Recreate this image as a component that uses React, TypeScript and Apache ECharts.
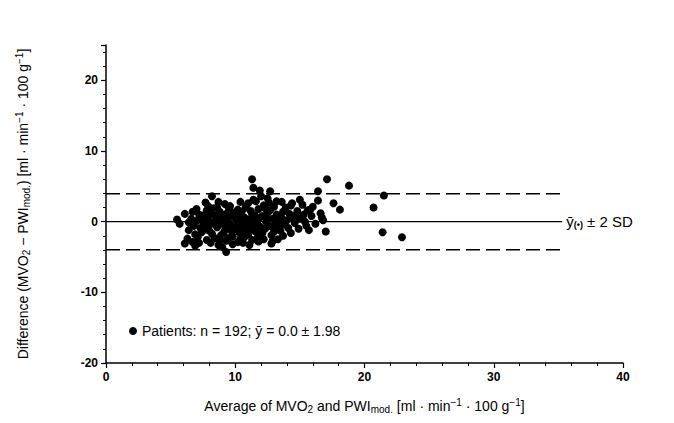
import React, { useEffect, useRef } from "react";
import * as echarts from "echarts";

const xTicks = [0, 10, 20, 30, 40];
const yTicks = [-20, -10, 0, 10, 20];
const yAxisTop = 25;
const meanDiff = 0.0;
const sdDiff = 1.98;
const lineEndX = 35.3;

// [average, difference]
const patients: number[][] = [
  [5.5, 0.3], [5.7, -0.3], [6.1, 1.1], [6.7, 1.4], [6.4, -0.1], [6.4, -1.2], [6.3, -2.4], [6.1, -3.1],
  [6.7, -2.9], [7.3, 0.9], [7.7, 2.7], [7.8, 1.6], [8.2, 3.6], [8.7, 2.8], [8.7, -3.3], [9.3, -4.3],
  [10.4, 2.8], [11.3, 6.0], [11.4, 4.8], [11.9, 4.4], [12.7, 4.3], [12.5, 3.3], [13.6, 2.8], [14.4, 2.6],
  [15.0, 3.1], [15.2, 2.4], [15.8, 1.7], [16.6, 1.2], [16.4, 4.3], [16.4, 3.0], [17.1, 6.0], [17.0, -1.4],
  [17.6, 2.6], [13.5, -1.3], [14.3, -1.6], [12.9, -2.7], [13.3, -2.5], [18.8, 5.1], [21.5, 3.7], [18.1, 1.7],
  [20.7, 2.0], [16.7, 0.6], [21.4, -1.5], [22.9, -2.2], [15.4, 0.0],
  [6.6, 0.4], [6.8, -0.6], [6.9, -1.8], [7.0, 0.1], [7.1, -2.2], [7.2, 1.0], [7.3, -0.9], [7.4, -1.5],
  [7.5, 0.5], [6.9, -3.4], [7.2, -3.0], [7.0, 1.8],
  [7.6, -0.2], [7.7, -1.1], [7.8, -2.6], [7.9, 0.6], [8.0, -0.5], [8.1, 1.2], [8.2, -1.7], [8.3, -0.1],
  [8.4, 0.9], [8.4, -2.3], [7.9, 2.2], [8.1, -3.0], [8.3, 1.9], [7.6, 0.9], [8.0, -1.3],
  [8.6, -0.8], [8.7, 0.3], [8.8, 1.4], [8.9, -1.9], [9.0, -0.3], [9.1, 0.8], [9.2, -1.2], [9.3, -2.7],
  [9.4, 0.1], [9.5, 1.9], [8.6, 2.0], [8.8, -2.6], [9.0, -3.6], [9.2, 2.5], [9.4, -0.9], [8.9, 0.5], [9.1, -1.6],
  [9.6, -0.4], [9.7, 0.7], [9.8, -2.1], [9.9, 1.3], [10.0, -1.0], [10.1, 0.2], [10.2, -2.9], [10.3, -1.5],
  [10.4, 1.0], [10.5, -0.2], [9.6, 2.2], [9.8, -3.2], [10.0, 0.9], [10.2, 1.7], [10.4, -2.4], [9.7, -1.3],
  [10.1, -0.6], [10.3, 0.4],
  [10.6, -1.1], [10.7, 0.6], [10.8, 2.0], [10.9, -0.5], [11.0, -1.8], [11.1, 0.3], [11.2, 1.5], [11.3, -2.6],
  [11.4, -0.2], [11.5, 0.9], [10.6, -3.0], [10.8, -1.5], [11.0, 2.6], [11.2, -0.9], [11.4, 3.1], [10.7, -2.2],
  [11.1, -3.3], [11.3, 1.1], [10.9, 0.0],
  [11.6, -1.4], [11.7, 0.2], [11.8, 1.8], [11.9, -0.7], [12.0, -2.0], [12.1, 0.8], [12.2, 2.3], [12.3, -1.0],
  [12.4, -0.1], [12.5, 1.2], [11.6, 2.9], [11.8, -2.8], [12.0, 3.6], [12.2, -2.5], [12.4, 0.5], [11.7, -0.3], [12.1, -1.6],
  [12.6, -0.6], [12.7, 1.6], [12.8, -1.9], [12.9, 0.4], [13.0, 2.1], [13.1, -0.3], [13.2, 1.0], [13.3, 0.0],
  [13.4, -0.9], [12.6, 2.7], [12.8, -3.1], [13.0, -1.4], [13.2, 2.9],
  [13.6, 0.5], [13.7, 1.4], [13.8, -0.4], [13.9, 2.0], [14.0, 0.2], [14.1, -0.9], [14.2, 1.1], [14.4, 0.6],
  [14.6, -0.2], [14.8, 1.5], [14.9, -1.0], [13.7, -2.0], [14.3, 2.3], [14.7, 0.9], [15.0, 0.4],
  [15.3, 1.0], [15.5, -0.6], [15.6, 1.6], [15.9, 0.8], [16.2, -0.3], [16.0, 2.1], [16.8, 0.2], [15.7, -1.2],
  [7.4, 0.2], [8.5, -0.4], [9.3, 1.1], [9.9, -0.8], [10.5, 1.4], [10.8, -0.3], [11.5, -1.3], [11.9, 0.6],
  [12.3, 1.9], [10.2, -0.9], [9.5, -2.3], [11.7, -2.3], [12.9, -0.8],
];

const legendName = "Patients: n = 192; ȳ = 0.0 ± 1.98";
const FONT = "Liberation Sans";

export default function App() {
  const ref = useRef<HTMLDivElement>(null);
  useEffect(() => {
    if (!ref.current) return;
    const chart = echarts.init(ref.current, undefined, { renderer: "svg" });
    const upper = meanDiff + 2 * sdDiff;
    const lower = meanDiff - 2 * sdDiff;
    const richBase = {
      sub: { fontSize: 10, fontFamily: FONT, color: "#000", padding: [7, 0, 0, 0] },
      sup: { fontSize: 10, fontFamily: FONT, color: "#000", padding: [0, 0, 7, 0] },
      subb: { fontSize: 9, fontFamily: FONT, color: "#000", fontWeight: "bold", padding: [7, 0, 0, 0] },
    };
    chart.setOption({
      animation: false,
      backgroundColor: "#fff",
      grid: { left: 106, right: 51, top: 45, bottom: 60, containLabel: false },
      legend: {
        left: 124,
        top: 319,
        icon: "circle",
        itemWidth: 8,
        itemHeight: 8,
        itemGap: 4,
        textStyle: { fontFamily: FONT, fontSize: 14, color: "#000" },
        data: [legendName],
      },
      xAxis: {
        type: "value",
        min: xTicks[0],
        max: xTicks[xTicks.length - 1],
        interval: 10,
        name: "Average of MVO{sub|2} and PWI{sub|mod.} [ml · min{sup|−1} · 100 g{sup|−1}]",
        nameLocation: "middle",
        nameGap: 34,
        nameTextStyle: { fontFamily: FONT, fontSize: 14, color: "#000", rich: richBase },
        axisLine: { onZero: false, lineStyle: { color: "#000", width: 1.5 } },
        axisTick: { length: 5, lineStyle: { color: "#000", width: 1.2 } },
        minorTick: { show: true, splitNumber: 5, length: 3, lineStyle: { color: "#000", width: 1 } },
        axisLabel: { fontFamily: FONT, fontSize: 12, fontWeight: "bold", color: "#000", margin: 8 },
        splitLine: { show: false },
      },
      yAxis: {
        type: "value",
        min: yTicks[0],
        max: yAxisTop,
        interval: 10,
        name: "Difference (MVO{sub|2} − PWI{sub|mod.}) [ml · min{sup|−1} · 100 g{sup|−1}]",
        nameLocation: "middle",
        nameGap: 75,
        nameTextStyle: { fontFamily: FONT, fontSize: 14, color: "#000", rich: richBase },
        axisLine: { show: true, onZero: false, lineStyle: { color: "#000", width: 1.5 } },
        axisTick: { show: true, length: 5, lineStyle: { color: "#000", width: 1.2 } },
        minorTick: { show: true, splitNumber: 5, length: 3, lineStyle: { color: "#000", width: 1 } },
        axisLabel: {
          fontFamily: FONT,
          fontSize: 12,
          fontWeight: "bold",
          color: "#000",
          margin: 8,
          showMaxLabel: false,
          formatter: (v: number) => (yTicks.includes(v) ? String(v) : ""),
        },
        splitLine: { show: false },
      },
      series: [
        {
          name: legendName,
          type: "scatter",
          data: patients,
          symbol: "circle",
          symbolSize: 8,
          itemStyle: { color: "#000", opacity: 1 },
          z: 3,
        },
        {
          name: "mean",
          type: "line",
          data: [[0, meanDiff], [lineEndX, meanDiff]],
          showSymbol: false,
          symbol: "none",
          lineStyle: { color: "#000", width: 1.3 },
          endLabel: {
            show: true,
            formatter: "ȳ{subb|(•)} ± 2 SD",
            fontFamily: FONT,
            fontSize: 15,
            color: "#000",
            distance: 4,
            rich: richBase,
          },
          z: 2,
        },
        {
          name: "upper",
          type: "line",
          data: [[0, upper], [lineEndX, upper]],
          showSymbol: false,
          symbol: "none",
          lineStyle: { color: "#000", width: 1.5, type: [14, 6] },
          z: 2,
        },
        {
          name: "lower",
          type: "line",
          data: [[0, lower], [lineEndX, lower]],
          showSymbol: false,
          symbol: "none",
          lineStyle: { color: "#000", width: 1.5, type: [14, 6] },
          z: 2,
        },
      ],
    });
    return () => chart.dispose();
  }, []);
  return (
    <div
      ref={ref}
      style={{ position: "fixed", left: 0, top: 0, width: 674, height: 423, background: "#fff" }}
    />
  );
}
